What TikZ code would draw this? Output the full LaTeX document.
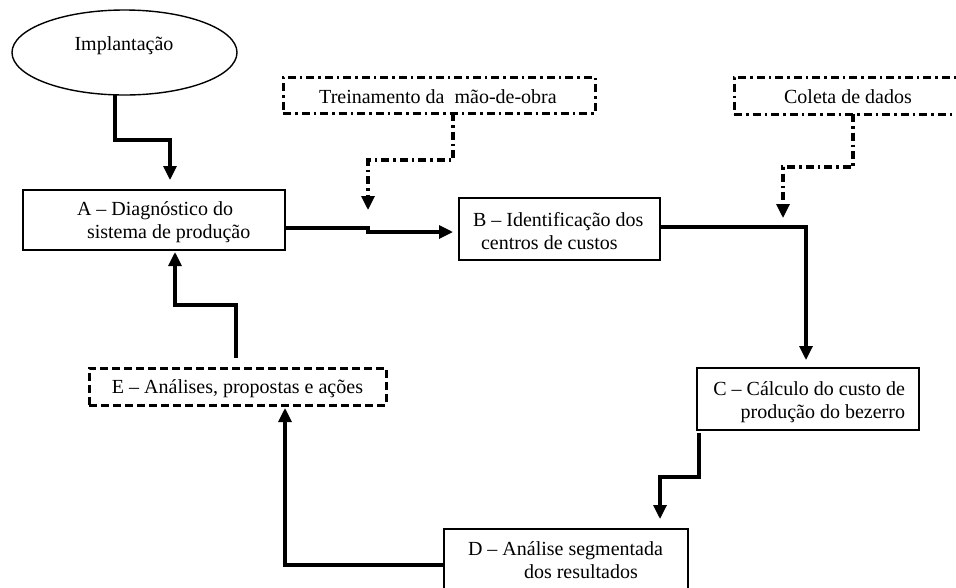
\documentclass[tikz,border=0pt]{standalone}
\usepackage{fontspec}
\setmainfont{Liberation Serif}
\usetikzlibrary{arrows.meta,shapes.geometric}
\begin{document}
\begin{tikzpicture}[x=1pt,y=-1pt,
  box/.style={draw, line width=1.4pt, inner sep=0pt, outer sep=0pt},
  dbox/.style={draw, line width=3pt, inner sep=0pt, outer sep=0pt, dash pattern=on 8pt off 4pt},
  ddbox/.style={draw, line width=3pt, inner sep=0pt, outer sep=0pt, dash pattern=on 8pt off 4pt on 2.5pt off 4pt},
  txt/.style={inner sep=0pt, outer sep=0pt, font=\fontsize{20}{23}\selectfont},
  conn/.style={line width=3.2pt, line join=miter, -{Triangle[length=14pt,width=13pt]}},
  dconn/.style={conn, dash pattern=on 8pt off 4pt on 2.5pt off 4pt}]
\useasboundingbox (0,0) rectangle (956,587);
\begin{scope}
\clip (0,0) rectangle (956,587);
% boxes
\node[ellipse, draw, line width=1.4pt, minimum width=225pt, minimum height=85pt, inner sep=0pt, outer sep=0pt] (ell) at (124.5,52.5) {};
\node[ddbox, minimum width=312pt, minimum height=36pt] (T) at (439,95) {};
\node[ddbox, minimum width=228pt, minimum height=37pt] (K) at (848,95.5) {};
\node[box, minimum width=262pt, minimum height=60pt] (A) at (154,220) {};
\node[box, minimum width=201pt, minimum height=62pt] (B) at (559.5,229) {};
\node[box, minimum width=222pt, minimum height=62pt] (C) at (808,399) {};
\node[box, minimum width=244pt, minimum height=62pt] (D) at (566,560) {};
\node[dbox, minimum width=297pt, minimum height=37pt] (E) at (237.5,386.5) {};
% texts
\node[txt, anchor=base] (tell) at (124,50) {Implantação};
\node[txt, anchor=base] (tT) at (438,103) {Treinamento da\ \ mão-de-obra};
\node[txt, anchor=base] (tK) at (848,103) {Coleta de dados};
\node[txt, anchor=base west] (tA1) at (77,215) {A – Diagnóstico do};
\node[txt, anchor=base west] (tA2) at (87,238) {sistema de produção};
\node[txt, anchor=base west] (tB1) at (473,226) {B – Identificação dos};
\node[txt, anchor=base west] (tB2) at (481,249) {centros de custos};
\node[txt, anchor=base east] (tC1) at (905,395) {C – Cálculo do custo de};
\node[txt, anchor=base east] (tC2) at (905,418) {produção do bezerro};
\node[txt, anchor=base west] (tD1) at (468,555) {D – Análise segmentada};
\node[txt, anchor=base west] (tD2) at (524,578) {dos resultados};
\node[txt, anchor=base] (tE) at (237.5,393) {E – Análises, propostas e ações};
% free ends
\coordinate (tA) at (368,210);
\coordinate (tk) at (783,218);
% connectors
\draw[conn, shorten >=10pt] ([xshift=-9.5pt]ell.south) -- ++(0,45) -| ([xshift=16pt]A.north);
\draw[dconn] ([xshift=14pt]T.south) -- ++(0,47) -| (tA);
\draw[dconn] ([xshift=5pt]K.south) -- ++(0,53) -| (tk);
\draw[conn, shorten >=6pt] ([yshift=-8pt]A.east) -- ++(83,0) -- ++(0,4) -- ([yshift=-3pt]B.west);
\draw[conn, shorten >=8pt] ([yshift=2pt]B.east) -| ([xshift=-2pt]C.north);
\draw[conn, shorten >=10pt] ([xshift=-109pt,yshift=-3pt]C.south) -- ++(0,44) -| ([xshift=94pt]D.north);
\draw[conn, shorten >=3pt] ([yshift=-5pt]D.west) -| ([xshift=47.5pt]E.south);
\draw[conn, shorten >=2pt] ([xshift=-1.5pt,yshift=10pt]E.north) -- ++(0,-53) -| ([xshift=21pt]A.south);
\end{scope}
\end{tikzpicture}
\end{document}
